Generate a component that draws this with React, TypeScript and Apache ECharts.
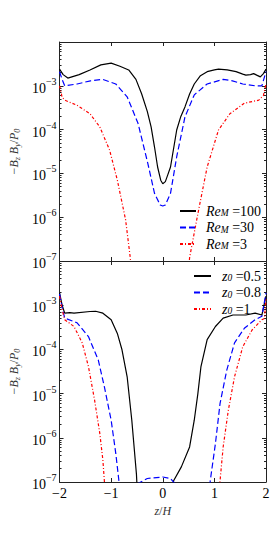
import React, { useEffect, useRef } from 'react';
import * as echarts from 'echarts';

// Top panel: different magnetic Reynolds numbers
const re100: (number | null)[][] = [
  [-2.0, 2.4e-3], [-1.93, 1.8e-3], [-1.84, 1.5e-3], [-1.62, 1.8e-3], [-1.41, 2.3e-3],
  [-1.2, 3.0e-3], [-1.0, 3.3e-3], [-0.83, 2.8e-3], [-0.66, 2.3e-3], [-0.52, 1.4e-3],
  [-0.41, 6.6e-4], [-0.3, 2.6e-4], [-0.226, 1.15e-4], [-0.16, 4.0e-5], [-0.1, 1.4e-5],
  [-0.04, 7.0e-6], [0.0, 5.8e-6], [0.05, 6.5e-6], [0.1, 9.5e-6], [0.15, 1.4e-5],
  [0.27, 9.8e-5], [0.35, 2.0e-4], [0.43, 3.3e-4], [0.52, 6.5e-4], [0.61, 1.1e-3],
  [0.73, 1.7e-3], [0.86, 2.1e-3], [1.0, 2.3e-3], [1.08, 2.4e-3], [1.25, 2.3e-3],
  [1.42, 2.1e-3], [1.55, 1.85e-3], [1.61, 1.75e-3], [1.7, 1.8e-3], [1.76, 1.9e-3],
  [1.82, 1.75e-3], [1.89, 1.6e-3], [1.95, 1.9e-3], [2.0, 2.4e-3],
];
const re30: (number | null)[][] = [
  [-2.0, 2.1e-3], [-1.95, 1.4e-3], [-1.9, 1.0e-3], [-1.66, 1.1e-3], [-1.4, 1.3e-3],
  [-1.16, 1.4e-3], [-0.91, 1.1e-3], [-0.69, 5.6e-4], [-0.48, 1.4e-4], [-0.29, 1.7e-5],
  [-0.16, 3.5e-6], [-0.05, 1.9e-6], [0.0, 1.8e-6], [0.05, 1.9e-6], [0.15, 3.5e-6],
  [0.27, 2.4e-5], [0.43, 1.95e-4], [0.61, 6.2e-4], [0.86, 1.1e-3], [1.17, 1.4e-3],
  [1.35, 1.3e-3], [1.55, 1.1e-3], [1.79, 1.0e-3], [1.92, 1.0e-3], [2.0, 2.1e-3],
];
const re3: (number | null)[][] = [
  [-2.0, 1.0e-3], [-1.95, 5.5e-4], [-1.9, 4.7e-4], [-1.66, 3.6e-4], [-1.41, 2.3e-4],
  [-1.22, 1.15e-4], [-1.03, 3.4e-5], [-0.88, 7.0e-6], [-0.72, 8.7e-7], [-0.63, 1.2e-7],
  [-0.58, 3.0e-8], [0.0, null], [0.48, 3.0e-8], [0.52, 1.2e-7], [0.68, 1.2e-6],
  [0.86, 1.4e-5], [1.08, 9.8e-5], [1.3, 2.3e-4], [1.58, 4.0e-4], [1.86, 4.7e-4],
  [1.95, 6.0e-4], [2.0, 1.1e-3],
];

// Bottom panel: different z0
const z05: (number | null)[][] = [
  [-2.0, 1.9e-3], [-1.95, 1.0e-3], [-1.9, 6.6e-4], [-1.8, 6.8e-4], [-1.72, 6.6e-4],
  [-1.41, 7.2e-4], [-1.3, 7.3e-4], [-1.16, 6.6e-4], [-1.0, 4.7e-4], [-0.88, 2.3e-4],
  [-0.79, 9.8e-5], [-0.69, 2.4e-5], [-0.6, 2.5e-6], [-0.51, 1.5e-7], [-0.49, 5.0e-8],
  [0.0, null], [0.19, 5.0e-8], [0.21, 1.07e-7], [0.36, 2.2e-7], [0.52, 6.2e-7],
  [0.61, 2.5e-6], [0.68, 1.0e-5], [0.74, 4.1e-5], [0.86, 1.66e-4], [1.02, 3.3e-4],
  [1.17, 5.1e-4], [1.36, 6.0e-4], [1.61, 6.0e-4], [1.79, 6.6e-4], [1.92, 6.0e-4],
  [2.0, 1.6e-3],
];
const z08: (number | null)[][] = [
  [-2.0, 1.8e-3], [-1.95, 9.0e-4], [-1.9, 5.1e-4], [-1.66, 4.0e-4], [-1.44, 1.95e-4],
  [-1.25, 5.8e-5], [-1.13, 1.4e-5], [-1.0, 2.5e-6], [-0.91, 4.4e-7], [-0.85, 1.07e-7],
  [-0.83, 5.0e-8], [-0.7, null], [-0.5, 9.0e-8], [-0.3, 1.2e-7], [0.0, 1.3e-7],
  [0.15, 1.2e-7], [0.24, 9.0e-8], [0.5, null], [0.9, 5.0e-8], [0.92, 1.07e-7],
  [1.02, 7.4e-7], [1.11, 6.0e-6], [1.24, 3.4e-5], [1.39, 1.4e-4], [1.58, 3.0e-4],
  [1.79, 4.7e-4], [1.92, 5.6e-4], [2.0, 1.9e-3],
];
const z1: (number | null)[][] = [
  [-2.0, 1.6e-3], [-1.95, 8.0e-4], [-1.9, 4.7e-4], [-1.72, 3.3e-4], [-1.56, 1.4e-4],
  [-1.44, 4.1e-5], [-1.32, 7.0e-6], [-1.22, 1.26e-6], [-1.16, 3.1e-7], [-1.13, 1.0e-7],
  [-1.11, 5.0e-8], [0.0, null], [1.09, 5.0e-8], [1.11, 1.07e-7], [1.17, 6.2e-7],
  [1.27, 4.2e-6], [1.39, 2.4e-5], [1.55, 1.15e-4], [1.73, 2.75e-4], [1.92, 4.7e-4],
  [1.97, 5.0e-4], [2.0, 1.35e-3],
];

const topNames = ['Re100', 'Re30', 'Re3'];
const topLabels = ['100', '30', '3'];
const botNames = ['z05', 'z08', 'z1'];
const botLabels = ['0.5', '0.8', '1'];
const xTicks = [-2, -1, 0, 1, 2];
const decades = [-7, -6, -5, -4, -3];
const minorMultipliers = [2, 3, 4, 5, 6, 7, 8, 9];

const FONT = 'Liberation Serif';
const AX = '#222';

const minorValues: number[] = [];
decades.forEach((d) => minorMultipliers.forEach((m) => minorValues.push(m * Math.pow(10, d))));

function yAxes(grid: number) {
  const common: any = {
    type: 'log',
    logBase: 10,
    min: 1e-7,
    max: 1e-2,
    gridIndex: grid,
    splitLine: { show: false },
    axisLine: { show: true, onZero: false, lineStyle: { color: AX, width: 1 } },
    axisTick: { show: true, inside: true, length: 4, lineStyle: { color: AX } },
  };
  const minor: any = {
    ...common,
    axisLine: { show: false, onZero: false },
    axisLabel: { show: false },
    axisTick: { show: true, inside: true, length: 2, customValues: minorValues, lineStyle: { color: AX } },
  };
  return [
    {
      ...common,
      position: 'left',
      name: '{m|−}{i|B}{s|z}{i| B}{s|y}{n|/}{i|P}{s|0}',
      nameLocation: 'middle',
      nameRotate: 90,
      nameGap: 34,
      nameTextStyle: {
        color: '#333',
        fontFamily: FONT,
        rich: {
          m: { fontSize: 12, fontFamily: FONT, color: '#333', lineHeight: 14 },
          i: { fontSize: 12, fontStyle: 'italic', fontFamily: FONT, color: '#333', lineHeight: 14 },
          n: { fontSize: 12, fontFamily: FONT, color: '#333', lineHeight: 14 },
          s: { fontSize: 8, fontStyle: 'italic', fontFamily: FONT, color: '#333', lineHeight: 8, verticalAlign: 'bottom' },
        },
      },
      axisLabel: {
        show: true,
        margin: 3,
        formatter: (v: number) => {
          const e = Math.round(Math.log10(v));
          if (e === -2) return '';
          return `{b|10}{e|−${Math.abs(e)}}`;
        },
        rich: {
          b: { fontSize: 14, fontFamily: FONT, color: '#000', lineHeight: 19, verticalAlign: 'bottom' },
          e: { fontSize: 10, fontFamily: FONT, color: '#000', lineHeight: 10, verticalAlign: 'top' },
        },
      },
    },
    { ...common, position: 'right', axisLabel: { show: false } },
    { ...minor, position: 'left' },
    { ...minor, position: 'right' },
  ];
}

function xAxes(grid: number, withLabels: boolean) {
  const common: any = {
    type: 'value',
    min: -2,
    max: 2,
    interval: 1,
    gridIndex: grid,
    splitLine: { show: false },
    axisLine: { show: true, onZero: false, lineStyle: { color: AX, width: 1 } },
    axisTick: { show: true, inside: true, length: 4, lineStyle: { color: AX } },
  };
  return [
    {
      ...common,
      position: 'bottom',
      name: withLabels ? '{i|z}{n|/}{i|H}' : '',
      nameLocation: 'middle',
      nameGap: 23,
      nameTextStyle: {
        rich: {
          i: { fontSize: 12, fontStyle: 'italic', fontFamily: FONT, color: '#333' },
          n: { fontSize: 12, fontFamily: FONT, color: '#333' },
        },
      },
      axisLabel: {
        show: withLabels,
        margin: 4,
        fontSize: 14,
        fontFamily: FONT,
        color: '#000',
        formatter: (v: number) => (xTicks.includes(v) ? (v < 0 ? '−' + Math.abs(v) : String(v)) : ''),
      },
    },
    { ...common, position: 'top', axisLabel: { show: false } },
  ];
}

const legendRich = {
  sp: { width: 5, fontSize: 13, lineHeight: 14 },
  sp2: { width: 6, fontSize: 13, lineHeight: 14 },
  i: { fontSize: 14, fontStyle: 'italic', fontFamily: FONT, color: '#000', lineHeight: 14 },
  s: { fontSize: 9.5, fontStyle: 'italic', fontFamily: FONT, color: '#000', lineHeight: 9, verticalAlign: 'bottom' },
  n: { fontSize: 14, fontFamily: FONT, color: '#000', lineHeight: 14 },
};

const RED_DASH = [3, 2, 1, 2];
const BLUE_DASH = [6, 3];

function line(name: string, data: (number | null)[][], xi: number, yi: number, color: string, type: any) {
  return {
    name,
    type: 'line',
    xAxisIndex: xi,
    yAxisIndex: yi,
    data,
    showSymbol: false,
    symbol: 'none',
    connectNulls: false,
    clip: true,
    lineStyle: { color, width: 1.2, type },
    itemStyle: { color },
  };
}

const legendCommon: any = {
  orient: 'vertical',
  padding: 0,
  itemHeight: 14,
  itemGap: 2.5,
  selectedMode: false,
  itemStyle: { color: 'rgba(0,0,0,0)', borderColor: 'rgba(0,0,0,0)', borderWidth: 0, opacity: 0 },
  textStyle: { rich: legendRich },
};

export default function App() {
  const ref = useRef<HTMLDivElement>(null);
  useEffect(() => {
    const chart = echarts.init(ref.current!, null, { renderer: 'svg' });
    const option: any = {
      animation: false,
      backgroundColor: '#fff',
      textStyle: { fontFamily: FONT },
      grid: [
        { left: 52, right: 9, top: 42, height: 219 },
        { left: 52, right: 9, top: 261, height: 221 },
      ],
      xAxis: [...xAxes(0, false), ...xAxes(1, true)],
      yAxis: [...yAxes(0), ...yAxes(1)],
      legend: [
        {
          ...legendCommon,
          data: topNames,
          left: 179,
          top: 204,
          itemWidth: 16,
          formatter: (n: string) => `{sp| }{i|Re}{s|M}{n| =${topLabels[topNames.indexOf(n)]}}`,
        },
        {
          ...legendCommon,
          data: botNames,
          left: 193,
          top: 269,
          itemWidth: 17,
          formatter: (n: string) => `{sp2| }{i|z}{s|0}{n| =${botLabels[botNames.indexOf(n)]}}`,
        },
      ],
      series: [
        line('Re100', re100, 0, 0, '#000000', 'solid'),
        line('Re30', re30, 0, 0, '#0000ff', BLUE_DASH),
        line('Re3', re3, 0, 0, '#ff0000', RED_DASH),
        line('z05', z05, 2, 4, '#000000', 'solid'),
        line('z08', z08, 2, 4, '#0000ff', BLUE_DASH),
        line('z1', z1, 2, 4, '#ff0000', RED_DASH),
      ],
    };
    chart.setOption(option);
    return () => chart.dispose();
  }, []);
  return (
    <div
      ref={ref}
      style={{ position: 'fixed', left: 0, top: 0, width: 275, height: 550, background: '#fff' }}
    />
  );
}
